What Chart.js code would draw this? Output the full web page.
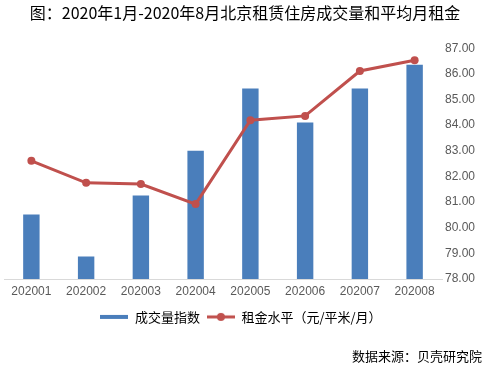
<!DOCTYPE html>
<html>
<head>
<meta charset="utf-8">
<script src="https://cdn.jsdelivr.net/npm/chart.js@4/dist/chart.umd.min.js"></script>
<style>
  html, body { margin: 0; padding: 0; background: #fff; }
  #wrap { width: 500px; height: 366px; }
</style>
</head>
<body>
<div id="wrap"><canvas id="rentChart"></canvas></div>
<script>
// 月份
const months = ['202001', '202002', '202003', '202004', '202005', '202006', '202007', '202008'];
// 成交量指数 (按右轴刻度读取)
const volumeIndex = [80.52, 78.88, 81.26, 83.00, 85.43, 84.10, 85.43, 86.35];
// 租金水平 元/平米/月
const rentLevel = [82.61, 81.75, 81.70, 80.92, 84.19, 84.36, 86.11, 86.53];
const yTicks = [78, 79, 80, 81, 82, 83, 84, 85, 86, 87];

const BLUE = '#4a7ebb';
const RED = '#c0504d';
const cjk = '"Noto Sans CJK SC", sans-serif';

// 图例小图标
function legendIcon(type) {
    const c = document.createElement('canvas');
    c.width = 28; c.height = 10;
    const g = c.getContext('2d');
    if (type === 'bar') {
        g.fillStyle = BLUE;
        g.fillRect(0, 3, 28, 4);
    } else {
        g.strokeStyle = RED;
        g.lineWidth = 3;
        g.beginPath(); g.moveTo(0, 5); g.lineTo(28, 5); g.stroke();
        g.fillStyle = RED;
        g.beginPath(); g.arc(14, 5, 4, 0, Math.PI * 2); g.fill();
    }
    return c;
}
const icons = [legendIcon('bar'), legendIcon('line')];

const data = {
    labels: months,
    datasets: [{
        type: 'line',
        label: '租金水平（元/平米/月）',
        data: rentLevel,
        borderColor: RED,
        backgroundColor: RED,
        borderWidth: 3,
        pointRadius: 4,
        pointBackgroundColor: RED,
        pointBorderWidth: 0,
        order: 0
    }, {
        type: 'bar',
        label: '成交量指数',
        data: volumeIndex,
        backgroundColor: BLUE,
        barPercentage: 0.6,
        categoryPercentage: 0.5,
        order: 1
    }]
};

// 标题居中于整张图
const titleShift = {
    id: 'titleShift',
    afterLayout(chart) {
        chart.titleBlock.left = 0;
        chart.titleBlock.right = 490;
    }
};

const config = {
    data: data,
    plugins: [titleShift],
    options: {
        responsive: true,
        maintainAspectRatio: false,
        animation: false,
        layout: { padding: { left: 0, right: 18, top: 3, bottom: 2 } },
        scales: {
            x: {
                offset: true,
                grid: { display: false, drawTicks: false },
                border: { color: '#d9d9d9', width: 1 },
                afterFit: axis => { axis.paddingLeft = 0; axis.paddingRight = 0; },
                ticks: { color: '#595959', font: { family: '"Liberation Sans", sans-serif', size: 12 }, padding: 5 }
            },
            y: {
                position: 'right',
                min: 78,
                max: 87,
                grid: { display: false, drawTicks: false },
                border: { display: false },
                afterBuildTicks: axis => { axis.ticks = yTicks.map(v => ({ value: v })); },
                afterFit: axis => { axis.width = 40; },
                ticks: {
                    color: '#595959',
                    padding: 3,
                    font: { family: '"Liberation Sans", sans-serif', size: 12 },
                    callback: v => Number(v).toFixed(2)
                }
            }
        },
        plugins: {
            title: {
                display: true,
                text: '图：2020年1月-2020年8月北京租赁住房成交量和平均月租金',
                color: '#000',
                font: { family: cjk, size: 16, weight: 'normal' },
                padding: { top: 0, bottom: 26 }
            },
            subtitle: {
                display: true,
                position: 'bottom',
                align: 'end',
                text: '数据来源：贝壳研究院',
                color: '#000',
                font: { family: cjk, size: 13, weight: 'normal' },
                padding: { top: 15, bottom: 0 }
            },
            legend: {
                position: 'bottom',
                labels: {
                    color: '#595959',
                    font: { family: cjk, size: 13 },
                    usePointStyle: true,
                    pointStyleWidth: 28,
                    boxHeight: 10,
                    padding: 7,
                    generateLabels: chart => [1, 0].map((i, k) => ({
                        text: chart.data.datasets[i].label,
                        fillStyle: chart.data.datasets[i].backgroundColor,
                        strokeStyle: chart.data.datasets[i].borderColor || BLUE,
                        lineWidth: 0,
                        pointStyle: icons[k],
                        hidden: false,
                        datasetIndex: i
                    }))
                }
            },
            tooltip: { enabled: false }
        }
    }
};

const rentChart = new Chart(document.getElementById('rentChart'), config);
</script>
</body>
</html>
